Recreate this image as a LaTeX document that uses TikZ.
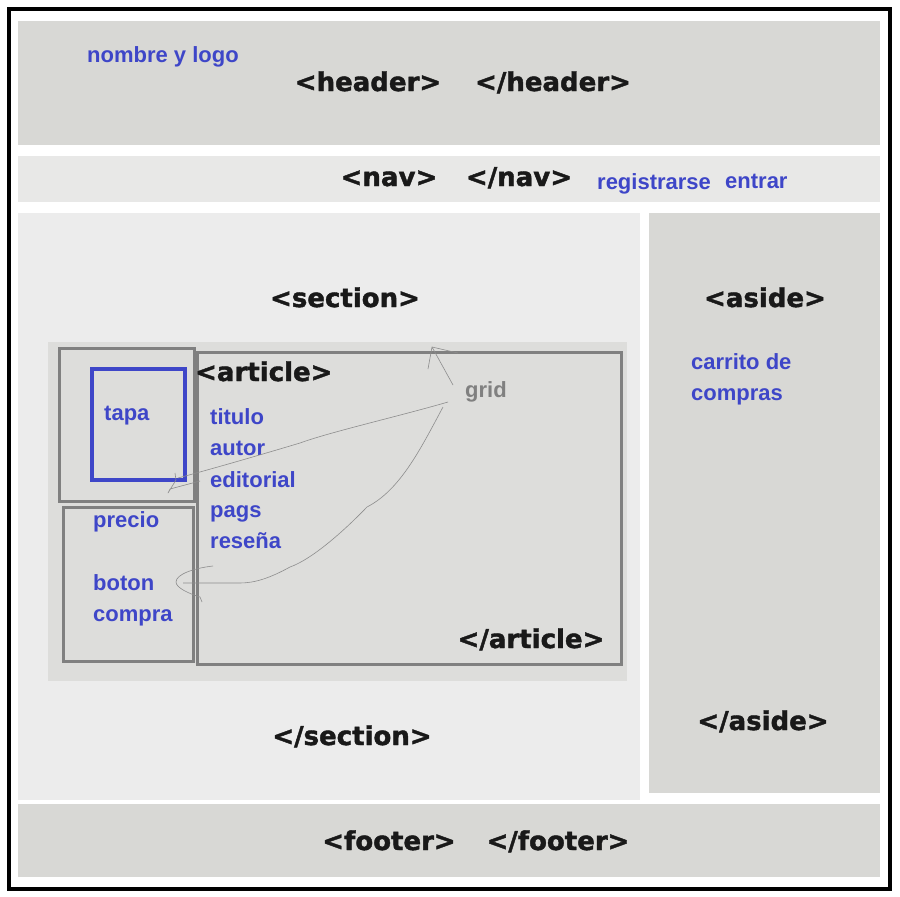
\documentclass[tikz,border=0pt]{standalone}
\usepackage{fontspec}
\setmainfont{Liberation Sans}
\newfontfamily\tagfont{DejaVu Sans}[BoldFeatures={FakeBold=1.6}]
\usepackage{tikz}

\definecolor{boxgray}{RGB}{216,216,213}
\definecolor{navgray}{RGB}{232,232,231}
\definecolor{secgray}{RGB}{236,236,236}
\definecolor{bandgray}{RGB}{221,221,219}
\definecolor{edgegray}{RGB}{128,128,128}
\definecolor{noteblue}{RGB}{62,70,200}

\tikzset{
  tag/.style={font=\tagfont\bfseries\fontsize{26}{30}\selectfont,text=black!90,anchor=base,inner sep=0pt},
  note/.style={font=\bfseries\fontsize{22}{26}\selectfont,text=noteblue,anchor=base west,inner sep=0pt},
  scribble/.style={draw=edgegray!90,line width=0.6pt,line join=round}
}

\begin{document}
\begin{tikzpicture}[x=1pt,y=-1pt]
\useasboundingbox (0,0) rectangle (900,897);
\fill[white] (0,0) rectangle (900,897);
% page regions
\fill[boxgray] (18,21) rectangle (880,145);
\fill[navgray] (18,156) rectangle (880,202);
\fill[secgray] (18,213) rectangle (640,800);
\fill[boxgray] (649,213) rectangle (880,793);
\fill[boxgray] (18,804) rectangle (880,877);
\draw[line width=3.5pt] (9,9) rectangle (890,889);
% article band and boxes
\fill[bandgray] (48,342) rectangle (627,681);
\draw[edgegray,line width=3pt] (59,348) rectangle (194,501);
\draw[edgegray,line width=3pt] (63,507) rectangle (193,661);
\draw[edgegray,line width=3pt] (197,352) rectangle (621,664);
\draw[noteblue,line width=4pt] (92,369) rectangle (185,480);
% tags
\node[tag] (hdropen) at (368,91) {<header>};
\node[tag] (hdrclose) at (553,91) {</header>};
\node[tag] (navopen) at (389,186) {<nav>};
\node[tag] (navclose) at (519,186) {</nav>};
\node[tag] (secopen) at (345,307) {<section>};
\node[tag] (secclose) at (352,745) {</section>};
\node[tag] (asdopen) at (765,307) {<aside>};
\node[tag] (asdclose) at (763,730) {</aside>};
\node[tag,anchor=base west] (artopen) at (195,381) {<article>};
\node[tag] (artclose) at (531,648) {</article>};
\node[tag] (ftropen) at (389,850) {<footer>};
\node[tag] (ftrclose) at (558,850) {</footer>};
% notes
\node[note] (logo) at (87,62) {nombre y logo};
\node[note] (registro) at (597,189) {registrarse};
\node[note] (entrar) at (725,188) {entrar};
\node[note] (carrito) at (691,369) {carrito de};
\node[note] (compras) at (691,400) {compras};
\node[note] (tapa) at (104,420) {tapa};
\node[note] (titulo) at (210,424) {titulo};
\node[note] (autor) at (210,455) {autor};
\node[note] (editorial) at (210,487) {editorial};
\node[note] (pags) at (210,517) {pags};
\node[note] (resena) at (210,548) {reseña};
\node[note] (precio) at (93,527) {precio};
\node[note] (boton) at (93,590) {boton};
\node[note] (compra) at (93,621) {compra};
\node[note,text=edgegray] (grid) at (465,397) {grid};
% hand drawn strokes
\coordinate (tip1) at (170,489);
\coordinate (tip2) at (176,582);
\draw[scribble] (448,402) .. controls (400,416) and (330,432) .. (300,443)
  .. controls (260,455) and (215,468) .. (178,478);
\draw[scribble] (200,481) -- (tip1) -- (168,493) -- (176,480) -- (175,473);
\draw[scribble] (443,407) .. controls (420,450) and (400,490) .. (367,507)
  .. controls (340,535) and (310,560) .. (290,567)
  .. controls (270,578) and (255,583) .. (240,583) -- (183,583);
\draw[scribble] (213,566) .. controls (195,568) and (176,574) .. (tip2)
  .. controls (176,588) and (190,594) .. (200,597) -- (202,602);
\draw[scribble] (453,385) -- (432,347) -- (428,369);
\draw[scribble] (432,347) -- (458,353);
\end{tikzpicture}
\end{document}
